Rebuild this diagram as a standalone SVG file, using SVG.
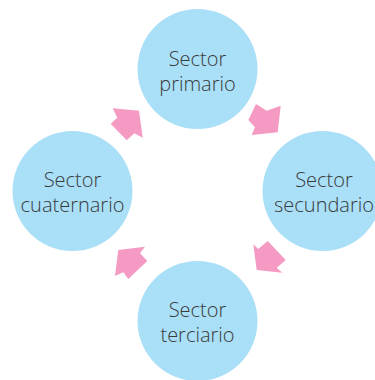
<svg xmlns="http://www.w3.org/2000/svg" width="375" height="380" viewBox="0 0 375 380">
<style>
.c{fill:#a9dff7}
.t{font-family:"Open Sans","Noto Sans",sans-serif;font-size:20px;font-weight:300;fill:#3a3a3a;text-anchor:middle}
.a{fill:#f59ac3}
</style>
<rect width="375" height="380" fill="#fff"/>
<g id="connectors">
<polygon class="a" points="112.7,108.3 139,110.7 142.7,137.7 134.3,133.3 126.7,140.3 110.7,123.7 117.3,117.7"/>
<polygon class="a" points="256,104 266.7,110.7 280.7,105.7 277.7,132.3 251.7,135 255,127.3 248.3,120"/>
<polygon class="a" points="253.3,244.3 258.3,249 267.7,241 285.7,260 276.7,267.7 282.3,272.7 256.7,270"/>
<polygon class="a" points="118.3,250 145,246.7 140,253.3 147.3,261 128.3,279 123.3,272.3 115,276"/>
</g>
<g id="primario"><circle class="c" cx="197.5" cy="69" r="60"/><text class="t" x="197.5" y="66">Sector</text><text class="t" x="197.5" y="91">primario</text></g>
<g id="secundario"><circle class="c" cx="322.5" cy="191" r="60"/><text class="t" x="324" y="187">Sector</text><text class="t" x="324" y="212">secundario</text></g>
<g id="terciario"><circle class="c" cx="197.5" cy="321" r="60"/><text class="t" x="197.5" y="317">Sector</text><text class="t" x="197.5" y="342">terciario</text></g>
<g id="cuaternario"><circle class="c" cx="72.5" cy="191" r="60"/><text class="t" x="72.5" y="187">Sector</text><text class="t" x="72.5" y="212">cuaternario</text></g>
</svg>
